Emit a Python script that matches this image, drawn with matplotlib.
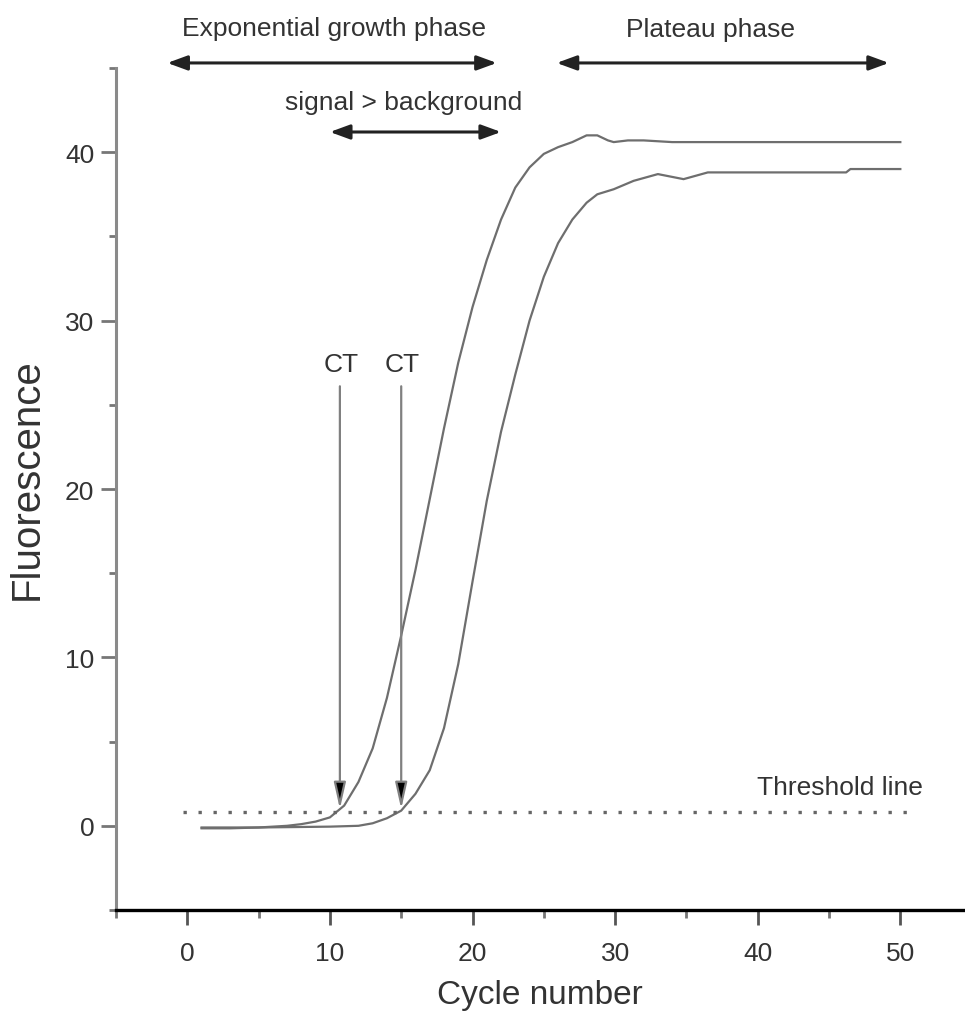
"""
qPCR amplification curves - exponential / plateau phase schematic with CT markers.
"""
import numpy as np
import matplotlib
matplotlib.use("Agg")
import matplotlib.pyplot as plt
from matplotlib.ticker import MultipleLocator

plt.rcParams["font.family"] = ["Liberation Sans", "DejaVu Sans"]

# --- data ------------------------------------------------------------------
cycle_a = [1, 3, 5, 7, 8, 9, 10, 11, 12, 13, 14, 15, 16, 17, 18, 19, 20, 21, 22,
           23, 24, 25, 26, 27, 28.0, 28.75, 29.5, 29.9, 30.9, 32.0, 34.0, 40.0, 50.0]
fluor_a = [-0.15, -0.15, -0.1, 0.0, 0.1, 0.25, 0.5, 1.2, 2.6, 4.6, 7.6, 11.3, 15.2,
           19.4, 23.6, 27.5, 30.8, 33.6, 36.0, 37.9, 39.1, 39.9, 40.3, 40.6, 41.0,
           41.0, 40.7, 40.6, 40.7, 40.7, 40.6, 40.6, 40.6]

cycle_b = [1, 5, 10, 12, 13, 14, 15, 16, 17, 18, 19, 20, 21, 22, 23, 24, 25, 26,
           27, 28.0, 28.75, 29.9, 31.3, 33.0, 34.8, 36.5, 40.0, 46.2, 46.5, 50.0]
fluor_b = [-0.1, -0.1, -0.05, 0.0, 0.15, 0.45, 0.9, 1.9, 3.3, 5.8, 9.6, 14.5, 19.3,
           23.4, 26.8, 30.0, 32.6, 34.6, 36.0, 37.0, 37.5, 37.8, 38.3, 38.7, 38.4,
           38.8, 38.8, 38.8, 39.0, 39.0]

threshold = 0.8
ct_cycles = [10.7, 15.0]

CURVE = "#6e6e6e"
SPINE = "#8a8a8a"
TXT = "#333333"

fig = plt.figure(figsize=(9.65, 10.2), dpi=100)
ax = fig.add_axes([116/965, 1-911/1020, 848.5/965, 842/1020])

ax.plot(cycle_a, fluor_a, color=CURVE, lw=1.6)
ax.plot(cycle_b, fluor_b, color=CURVE, lw=1.6)

# threshold (dotted)
ax.plot([-0.3, 51.2], [threshold, threshold], color="#666666", lw=2.4,
        dashes=(1, 3.5), dash_capstyle="butt")
ax.text(45.8, 2.3, "Threshold line", ha="center", va="center", fontsize=19, color=TXT)

# CT markers
for ct in ct_cycles:
    ax.annotate("", xy=(ct, threshold + 0.2), xytext=(ct, 26.1),
                arrowprops=dict(arrowstyle="-|>,head_length=0.8,head_width=0.18",
                                mutation_scale=20, ec="#808080", fc="black", lw=1.6,
                                shrinkA=0, shrinkB=0))
    ax.text(ct + 0.1, 27.4, "CT", ha="center", va="center", fontsize=19, color=TXT)

# phase arrows
def span(x0, x1, y):
    ax.annotate("", xy=(x1, y), xytext=(x0, y), annotation_clip=False,
                arrowprops=dict(arrowstyle="<|-|>,head_length=0.6,head_width=0.22",
                                mutation_scale=20, color="#222222", lw=2.2,
                                shrinkA=0, shrinkB=0))

span(-1.4, 21.7, 45.3)
span(10.0, 22.0, 41.2)
span(25.9, 49.2, 45.3)
ax.text(10.27, 47.4, "Exponential growth phase", ha="center", va="center",
        fontsize=19, color=TXT, clip_on=False)
ax.text(15.2, 43.0, "signal > background", ha="center", va="center",
        fontsize=19, color=TXT, clip_on=False)
ax.text(36.7, 47.3, "Plateau phase", ha="center", va="center",
        fontsize=19, color=TXT, clip_on=False)

# axes styling
ax.set_xlim(-5, 54.5)
ax.set_ylim(-5, 45)
for s in ("top", "right"):
    ax.spines[s].set_visible(False)
ax.spines["left"].set_color(SPINE)
ax.spines["left"].set_linewidth(2.2)
ax.spines["bottom"].set_color("black")
ax.spines["bottom"].set_linewidth(2.4)

ax.xaxis.set_major_locator(MultipleLocator(10))
ax.xaxis.set_minor_locator(MultipleLocator(5))
ax.yaxis.set_major_locator(MultipleLocator(10))
ax.yaxis.set_minor_locator(MultipleLocator(5))
ax.tick_params(axis="x", which="major", length=10.5, width=2.0, color="#555555",
               labelsize=19, labelcolor=TXT, pad=12)
ax.tick_params(axis="x", which="minor", length=6, width=2.0, color="#777777")
ax.tick_params(axis="y", which="major", length=10.5, width=2.0, color="#777777",
               labelsize=19, labelcolor=TXT, pad=5)
ax.tick_params(axis="y", which="minor", length=5, width=2.0, color="#777777")

ax.set_xlabel("Cycle number", fontsize=24, color=TXT, labelpad=10)
ax.set_ylabel("Fluorescence", fontsize=29, color=TXT, va="center")
ax.yaxis.set_label_coords(-0.105, 0.513)

fig.savefig("out.png", dpi=100)
